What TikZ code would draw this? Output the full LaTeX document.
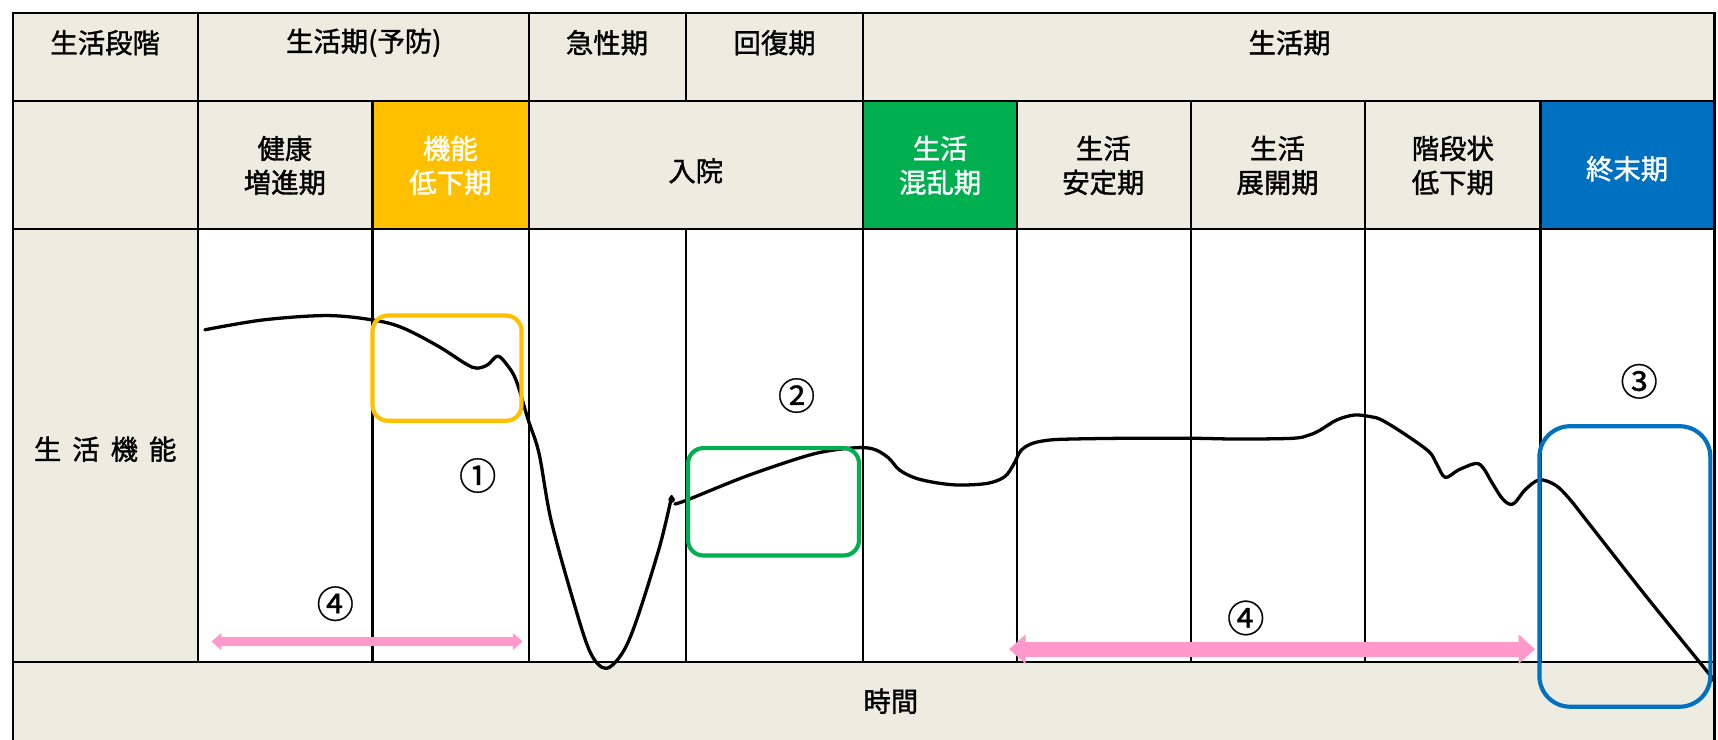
\documentclass[tikz,border=0pt]{standalone}
\usepackage{fontspec}
\setmainfont{Noto Sans CJK JP}
\newfontfamily\lblfont{Noto Sans CJK JP}[FakeBold=1.3]
\newfontfamily\numfont{Noto Sans CJK JP}[FakeBold=0.8]
\usetikzlibrary{arrows.meta}
\definecolor{beige}{HTML}{EEECE1}
\definecolor{korange}{HTML}{FFC000}
\definecolor{kgreen}{HTML}{00B050}
\definecolor{kblue}{HTML}{0070C0}
\definecolor{kpink}{HTML}{FF99CC}
\begin{document}
\begin{tikzpicture}[x=1pt,y=-1pt,
  grid/.style={line width=2pt,black},
  outer/.style={line width=2.4pt,black,line cap=rect},
  lbl/.style={font=\lblfont\fontsize{25}{31}\selectfont, align=center, inner sep=0pt},
  wlbl/.style={lbl, text=white},
  num/.style={font=\numfont\fontsize{34}{34}\selectfont, inner sep=0pt},
  curve/.style={line width=3pt, line cap=round, line join=round, black},
  hbox/.style={line width=3.8pt, rounded corners=14pt},
  parrow/.style={kpink}
]
\useasboundingbox (0,0) rectangle (1568,675);
\fill[white] (0,0) rectangle (1568,675);
% fills
\fill[beige] (12,12) rectangle (1565,675);
\fill[white] (181,209) rectangle (1565,604);
\fill[korange] (340,92) rectangle (483,209);
\fill[kgreen] (788,92) rectangle (928,209);
\fill[kblue] (1406,92) rectangle (1565,209);
% grid
\draw[grid] (12,92) -- (1565,92);
\draw[grid] (12,209) -- (1565,209);
\draw[grid] (12,604) -- (1565,604);
\foreach \x in {181,483,626,788} \draw[grid] (\x,12) -- (\x,92);
\foreach \x in {181,340,483,788,928,1087,1246,1406} \draw[grid] (\x,92) -- (\x,209);
\foreach \x in {181,340,483,626,788,928,1087,1246,1406} \draw[grid] (\x,209) -- (\x,604);
\draw[outer] (12,675) -- (12,12) -- (1565,12) -- (1565,675);
% header texts
\node[lbl] (t1) at (96,39) {生活段階};
\node[lbl] (t2) at (332,39) {生活期(予防)};
\node[lbl] (t3) at (554,39) {急性期};
\node[lbl] (t4) at (707,39) {回復期};
\node[lbl] (t5) at (1177,39) {生活期};
\node[lbl] (c1) at (260,151) {健康\\増進期};
\node[wlbl] (c2) at (411,151) {機能\\低下期};
\node[lbl] (c3) at (635,156) {入院};
\node[wlbl] (c4) at (858,151) {生活\\混乱期};
\node[lbl] (c5) at (1007,151) {生活\\安定期};
\node[lbl] (c6) at (1166,151) {生活\\展開期};
\node[lbl] (c7) at (1326,151) {階段状\\低下期};
\node[wlbl] (c8) at (1485,154) {終末期};
\node[lbl] (side) at (96,410) {生\hspace{10pt}活\hspace{10pt}機\hspace{10pt}能};
\node[lbl] (time) at (813,640) {時間};
% curve
\draw[curve] plot[smooth, tension=0.55] coordinates {(187,301) (240,292) (298,288) (340,292) (367,299) (400,316) (425,332) (435,336) (445,333) (454,325) (462,332) (471,347) (482,383) (492,414) (503,475) (524,551) (539,596) (553,610) (568,596) (581,566) (602,499) (613,453)};
\fill (613,456) circle (3pt);
\draw[curve] plot[smooth, tension=0.55] coordinates {(616,460) (628,456) (680,435) (733,417) (759,411) (785,408.5) (799,410.5) (811,418) (821,429) (836,436.5) (857,441) (877,442.7) (902,441) (917,435) (925,424) (932,411) (942.5,404.6) (958,401.6) (978,400.7) (1028,400) (1088,400) (1130,400.7) (1180,400) (1195,397) (1205,392.5) (1220,383.3) (1236,378.8) (1251,380.3) (1261,383.3) (1281,395.5) (1304,412) (1311,423) (1319,435.7) (1331,429) (1347,423) (1354,427.5) (1362,441) (1372,456) (1381,460) (1392,447) (1405,438) (1420,443) (1433,456) (1448,475) (1503,545) (1559,614) (1564,621)};
% highlight boxes
\draw[hbox, korange] (340,288) rectangle (476,384);
\draw[hbox, kgreen] (628,409) rectangle (784,507);
\draw[hbox, kblue, rounded corners=28pt] (1405,389) rectangle (1561,645);
% pink arrows
\coordinate (pa1) at (193,585.5);
\coordinate (pa2) at (477,585.5);
\draw[parrow, line width=8.5pt, {Triangle[width=15pt,length=9pt]}-{Triangle[width=15pt,length=9pt]}] (pa1) -- (pa2);
\coordinate (pb1) at (921,592.5);
\coordinate (pb2) at (1401,592.5);
\draw[parrow, line width=13.5pt, {Triangle[width=26pt,length=15pt]}-{Triangle[width=26pt,length=15pt]}] (pb1) -- (pb2);
% numbers
\node[num] (n1) at (436,434) {①};
\node[num] (n2) at (727,361) {②};
\node[num] (n3) at (1496,348) {③};
\node[num] (n4a) at (306,551) {④};
\node[num] (n4b) at (1137,564) {④};
\end{tikzpicture}
\end{document}
